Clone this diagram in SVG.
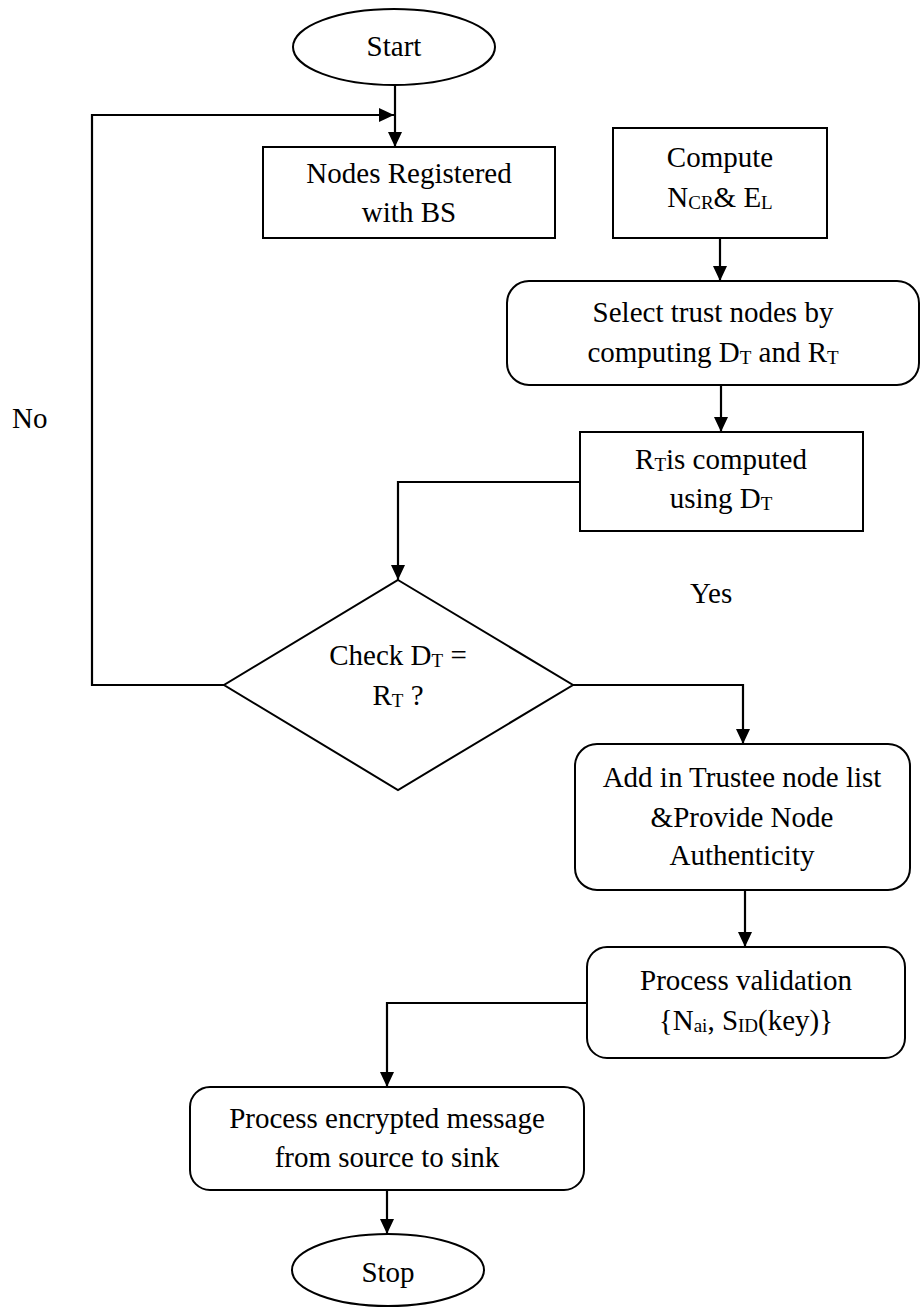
<svg xmlns="http://www.w3.org/2000/svg" width="921" height="1309" viewBox="0 0 921 1309">
<style>
.s{fill:#fff;stroke:#000;stroke-width:2}
.c{fill:none;stroke:#000;stroke-width:2.2;marker-end:url(#ah)}
text{font-family:"Liberation Serif","Times New Roman",serif;font-size:29px;fill:#000;text-anchor:middle}
.sub{font-size:19px}
.l{text-anchor:start}
</style>
<defs>
<marker id="ah" markerUnits="userSpaceOnUse" markerWidth="16" markerHeight="16" viewBox="0 0 16 16" refX="15" refY="8" orient="auto">
<path d="M0,1 L15,8 L0,15 Z" fill="#000"/>
</marker>
</defs>
<g id="connectors">
<path class="c" d="M395,85 V147"/>
<path class="c" d="M224,685 H92 V115 H394"/>
<path class="c" d="M720,238 V281"/>
<path class="c" d="M721,385 V432"/>
<path class="c" d="M580,482 H398 V580"/>
<path class="c" d="M573,685 H743 V744"/>
<path class="c" d="M745,890 V947"/>
<path class="c" d="M587,1003 H387 V1087"/>
<path class="c" d="M387,1190 V1234"/>
</g>
<g id="start">
<ellipse class="s" cx="394" cy="47" rx="101" ry="38"/>
<text x="394" y="56">Start</text>
</g>
<g id="nodes-registered">
<rect class="s" x="263" y="147" width="292" height="91"/>
<text x="409" y="183">Nodes Registered</text>
<text x="409" y="222">with BS</text>
</g>
<g id="compute">
<rect class="s" x="613" y="128" width="214" height="110"/>
<text x="720" y="167">Compute</text>
<text x="720" y="207">N<tspan class="sub" dy="2">CR</tspan><tspan dy="-2">&amp; E</tspan><tspan class="sub" dy="2">L</tspan></text>
</g>
<g id="select-trust">
<rect class="s" x="507" y="281" width="412" height="104" rx="22" ry="22"/>
<text x="713" y="322">Select trust nodes by</text>
<text x="713" y="362">computing D<tspan class="sub" dy="2">T</tspan><tspan dy="-2"> and R</tspan><tspan class="sub" dy="2">T</tspan></text>
</g>
<g id="rt-computed">
<rect class="s" x="580" y="432" width="283" height="99"/>
<text x="721" y="469">R<tspan class="sub" dy="2">T</tspan><tspan dy="-2">is computed</tspan></text>
<text x="721" y="508">using D<tspan class="sub" dy="2">T</tspan></text>
</g>
<g id="check">
<polygon class="s" points="398,580 573,685 398,790 224,685"/>
<text x="398" y="665">Check D<tspan class="sub" dy="2">T</tspan><tspan dy="-2"> =</tspan></text>
<text x="398" y="705">R<tspan class="sub" dy="2">T</tspan><tspan dy="-2"> ?</tspan></text>
</g>
<g id="label-no">
<text class="l" x="12" y="428">No</text>
</g>
<g id="label-yes">
<text class="l" x="690" y="603">Yes</text>
</g>
<g id="add-trustee">
<rect class="s" x="575" y="744" width="335" height="146" rx="22" ry="22"/>
<text x="742" y="787">Add in Trustee node list</text>
<text x="742" y="827">&amp;Provide Node</text>
<text x="742" y="865">Authenticity</text>
</g>
<g id="process-validation">
<rect class="s" x="587" y="947" width="318" height="111" rx="20" ry="20"/>
<text x="746" y="990">Process validation</text>
<text x="746" y="1030">{N<tspan class="sub" dy="2">ai</tspan><tspan dy="-2">, S</tspan><tspan class="sub" dy="2">ID</tspan><tspan dy="-2">(key)}</tspan></text>
</g>
<g id="process-encrypted">
<rect class="s" x="190" y="1087" width="394" height="103" rx="20" ry="20"/>
<text x="387" y="1128">Process encrypted message</text>
<text x="387" y="1167">from source to sink</text>
</g>
<g id="stop">
<ellipse class="s" cx="388" cy="1270" rx="96" ry="36"/>
<text x="388" y="1282">Stop</text>
</g>
</svg>
